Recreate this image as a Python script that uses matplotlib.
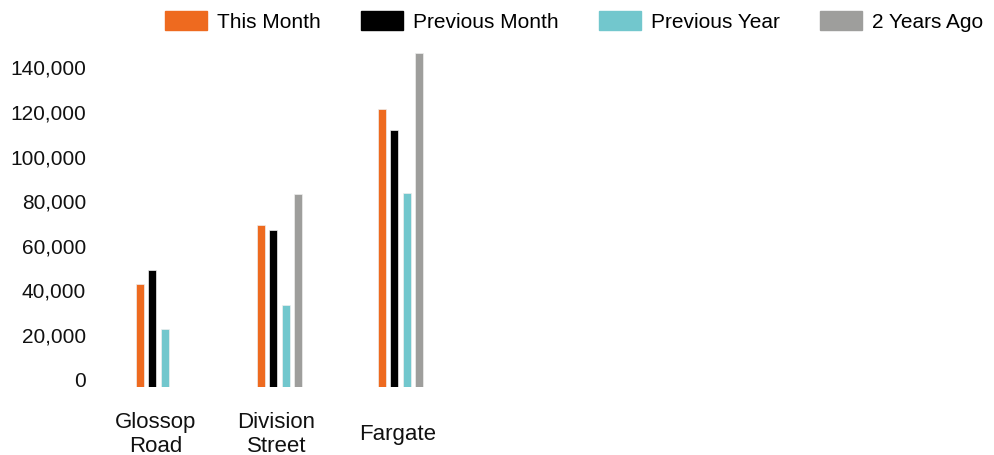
import matplotlib
matplotlib.use("Agg")
import matplotlib.pyplot as plt
import matplotlib.patches as mpatches
import numpy as np

plt.rcParams.update({
    "font.family": ["Liberation Sans", "DejaVu Sans"],
    "font.size": 15,
})

# data
stores = ["Glossop\nRoad", "Division\nStreet", "Fargate"]
series = ["This Month", "Previous Month", "Previous Year", "2 Years Ago"]
this_month = [46000, 72500, 124500]
prev_month = [52500, 70500, 115500]
prev_year = [26000, 37000, 87000]
two_years = [0, 86500, 150000]
colors = ["#EE6A1F", "#000000", "#72C7CD", "#9E9E9C"]

values = [this_month, prev_month, prev_year, two_years]

W, H = 995, 455
fig = plt.figure(figsize=(W / 100, H / 100), dpi=100)
# axes placed in pixel terms: left 98, bottom (zero line) at y=387
px_per_k = 2.229
ymax = 155000
ax_h = ymax / 1000 * px_per_k
ax = fig.add_axes([98 / W, (H - 387) / H, (W - 98) / W, ax_h / H])

x = np.arange(len(stores))
pitch = 0.1017
width = 0.066
for i, (vals, c) in enumerate(zip(values, colors)):
    ax.bar(x + (i - 1.5) * pitch, vals, width=width, color=c,
           edgecolor="#eeeeee", linewidth=0.5, zorder=3)

ax.set_xlim(-0.5, 6.91)
ax.set_ylim(0, ymax)
ax.set_yticks(np.arange(0, 140001, 20000))
ax.set_yticklabels([f"{v:,}" for v in range(0, 140001, 20000)], va="baseline")
ax.set_xticks(x - 0.025)
ax.set_xticklabels(stores, va="center", linespacing=1.2)
ax.tick_params(axis="y", length=0, pad=8.5, labelsize=15, colors="#111")
ax.tick_params(axis="x", length=0, pad=34, labelsize=16, colors="#111")
for s in ax.spines.values():
    s.set_visible(False)

handles = [mpatches.Patch(color=c, label=l) for c, l in zip(colors, series)]
fig.legend(handles=handles, loc="upper right", bbox_to_anchor=(1.0, 1.0),
           ncol=4, frameon=False, prop={"size": 15},
           handlelength=2.05, handleheight=1.0, handletextpad=0.48,
           columnspacing=1.9, borderaxespad=0.25, borderpad=0.3)

fig.savefig("out.png", dpi=100)
